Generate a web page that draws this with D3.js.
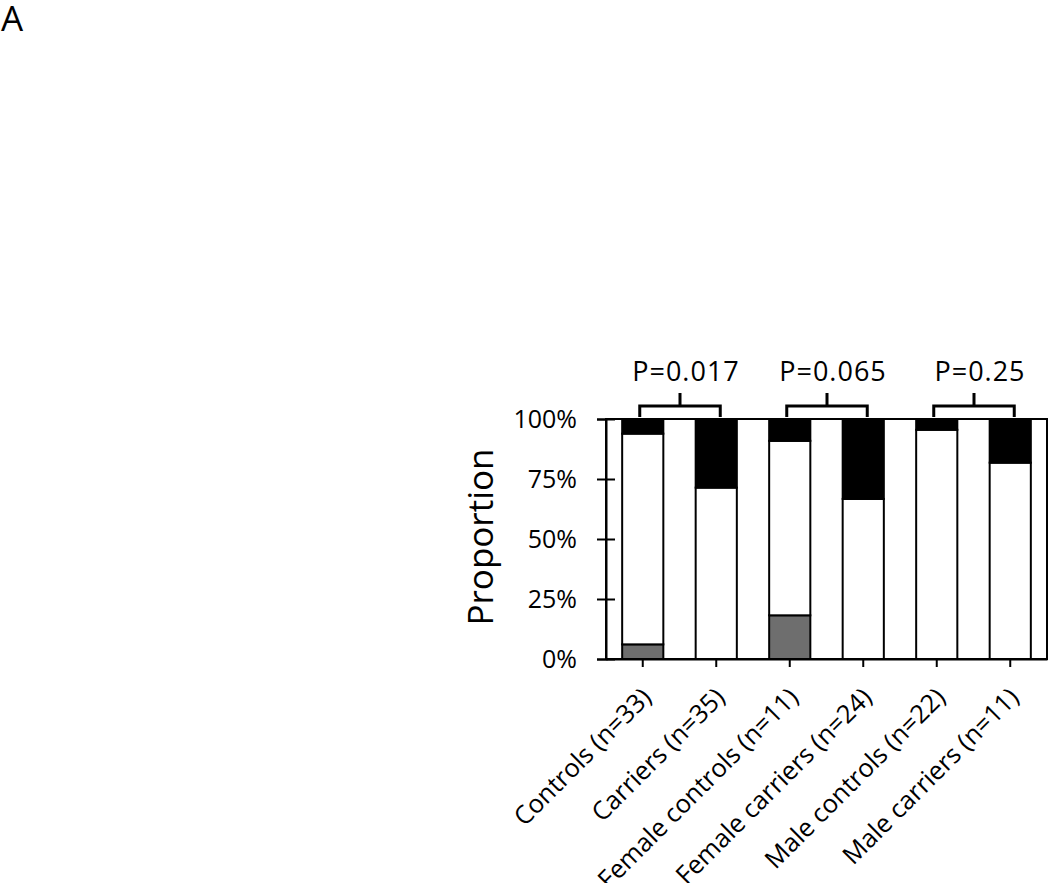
<!DOCTYPE html>
<html>
<head>
<meta charset="utf-8">
<script src="https://cdn.jsdelivr.net/npm/d3@7"></script>
<style>
  body { margin: 0; background: #fff; }
  text { font-family: "Open Sans", sans-serif; fill: #000; }
</style>
</head>
<body>
<script>
// groups and counts (percent of each group)
const categories = ["Controls (n=33)", "Carriers (n=35)", "Female controls (n=11)",
  "Female carriers (n=24)", "Male controls (n=22)", "Male carriers (n=11)"];
const grayPct  = [6.1, 0, 18.2, 0, 0, 0];
const whitePct = [87.8, 71.4, 72.7, 66.7, 95.5, 81.8];
const blackPct = [6.1, 28.6, 9.1, 33.3, 4.5, 18.2];
const yTicks = [0, 25, 50, 75, 100];
const pairs = [
  { a: 0, b: 1, label: "P=0.017" },
  { a: 2, b: 3, label: "P=0.065" },
  { a: 4, b: 5, label: "P=0.25" }
];

const width = 1050, height = 883;
const svg = d3.select("body").append("svg")
  .attr("width", width).attr("height", height);

svg.append("text").attr("x", 1).attr("y", 31)
  .style("font-size", "35px").text("A");

const plotL = 606, plotR = 1047, plotT = 419, plotB = 659;

const x = d3.scaleBand().domain(categories)
  .range([plotL, plotR]).paddingInner(0.44).paddingOuter(0.22);
const y = d3.scaleLinear().domain([0, 100]).range([plotB, plotT]);

const rows = categories.map((c, i) => ({ cat: c, gray: grayPct[i], white: whitePct[i], black: blackPct[i] }));
const stack = d3.stack().keys(["gray", "white", "black"])(rows);
const fills = { gray: "#6e6e6e", white: "#ffffff", black: "#000000" };

// plot frame
svg.append("rect")
  .attr("x", plotL).attr("y", plotT)
  .attr("width", plotR - plotL).attr("height", plotB - plotT)
  .attr("fill", "#fff").attr("stroke", "#000").attr("stroke-width", 2);

const layers = svg.append("g").selectAll("g").data(stack).enter().append("g")
  .attr("fill", d => fills[d.key]);
layers.selectAll("rect").data(d => d.filter(s => s[1] - s[0] > 0)).enter().append("rect")
  .attr("x", d => x(d.data.cat))
  .attr("width", x.bandwidth())
  .attr("y", d => y(d[1]))
  .attr("height", d => y(d[0]) - y(d[1]))
  .attr("stroke", "#000").attr("stroke-width", 2);

// y axis, ticks crossing the line
const yAxis = svg.append("g").attr("transform", `translate(${plotL},0)`)
  .call(d3.axisLeft(y).tickValues(yTicks).tickSize(9).tickPadding(20).tickFormat(d => d + "%"));
yAxis.selectAll("line").attr("x1", 9).attr("stroke-width", 2);
yAxis.select(".domain").attr("stroke-width", 2);
yAxis.selectAll("text").style("font-size", "25px").attr("fill", "#000");

// x axis
const xAxis = svg.append("g").attr("transform", `translate(0,${plotB})`)
  .call(d3.axisBottom(x).tickSize(8).tickSizeOuter(0));
xAxis.selectAll("line").attr("stroke-width", 2);
xAxis.select(".domain").attr("stroke-width", 2);
xAxis.selectAll("text")
  .style("font-size", "25.5px").attr("fill", "#000")
  .attr("text-anchor", "end")
  .attr("dy", null).attr("y", 0)
  .attr("transform", "translate(10,40) rotate(-45)");

svg.append("text")
  .attr("transform", "translate(493,537) rotate(-90)")
  .attr("text-anchor", "middle")
  .style("font-size", "35px").text("Proportion");

// significance brackets
const cx = c => x(c) + x.bandwidth() / 2;
const br = svg.append("g");
pairs.forEach(p => {
  const x1 = cx(categories[p.a]) - 3, x2 = cx(categories[p.b]) + 4, m = (x1 + x2) / 2;
  br.append("path")
    .attr("d", `M${x1},417V406H${x2}V417M${m},406V393`)
    .attr("fill", "none").attr("stroke", "#000").attr("stroke-width", 3);
  br.append("text").attr("x", m + 6).attr("y", 381)
    .attr("text-anchor", "middle").style("font-size", "27px")
    .style("letter-spacing", "1px").text(p.label);
});
</script>
</body>
</html>
